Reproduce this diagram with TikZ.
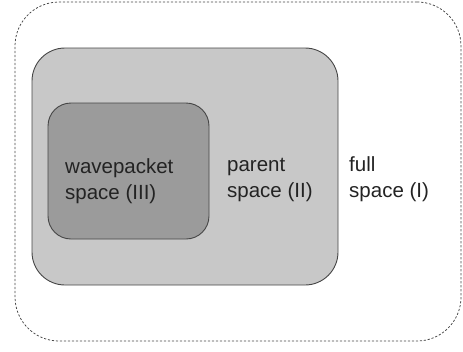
\documentclass[tikz,border=0pt]{standalone}
\usepackage{fontspec}
\setmainfont{Liberation Sans}
\definecolor{framegray}{RGB}{70, 70, 70}
\definecolor{parentgray}{RGB}{200, 200, 200}
\definecolor{packetgray}{RGB}{155, 155, 155}
\definecolor{textgray}{RGB}{35, 35, 35}
\usetikzlibrary{positioning}

\begin{document}
\begin{tikzpicture}[x=1pt, y=-1pt,
    spacebox/.style={draw=framegray, line width=0.9pt, inner sep=0pt},
    spacelabel/.style={anchor=base west, align=left, inner sep=0pt, text=textgray,
      font=\fontsize{20.5}{25.5}\selectfont}]
  \useasboundingbox (0, 0) rectangle (463, 351);

  % full space (I)
  \node[draw=framegray, dash pattern=on 2.2pt off 1.8pt, line width=0.75pt,
    rounded corners=44pt, minimum width=446pt, minimum height=339pt, inner sep=0pt]
    (full) at (238, 171.5) {};

  % parent space (II)
  \node[spacebox, fill=parentgray, rounded corners=33pt,
    minimum width=306pt, minimum height=237pt] (parent) at (185, 166.5) {};

  % wavepacket space (III)
  \node[spacebox, fill=packetgray, rounded corners=23pt,
    minimum width=161pt, minimum height=136pt] (packet) at (128.5, 171) {};

  % Labels
  \node[spacelabel] (packetlabel) at (65, 199) {wavepacket\\space (III)};
  \node[spacelabel] (parentlabel) at (227, 197) {parent\\space (II)};
  \node[spacelabel] (fulllabel) at (349, 197) {full\\space (I)};
\end{tikzpicture}
\end{document}
